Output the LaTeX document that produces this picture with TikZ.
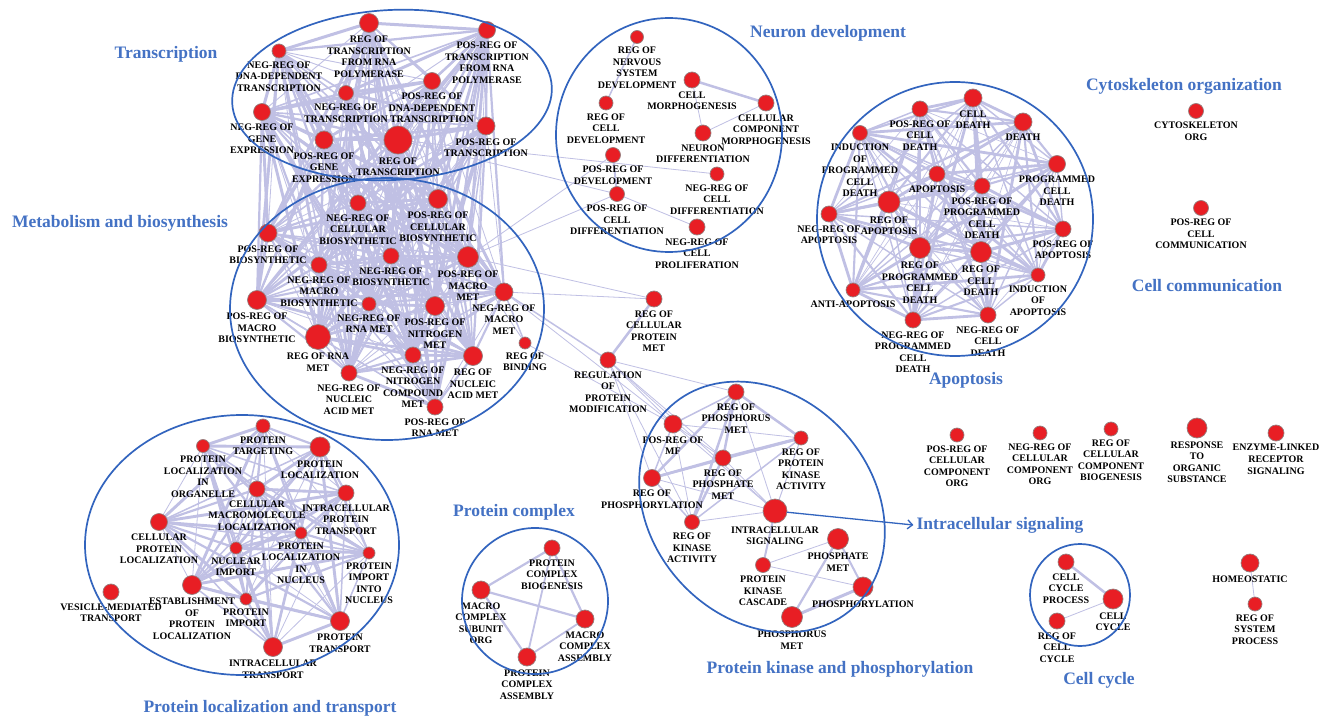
\documentclass[tikz,border=0pt]{standalone}
\usepackage{fontspec}
\setmainfont{Liberation Serif}
\usetikzlibrary{arrows.meta}
\pgfdeclarelayer{edges}
\pgfsetlayers{edges,main}
\definecolor{edgec}{RGB}{192,192,228}
\definecolor{nred}{RGB}{232,30,36}
\definecolor{nborder}{RGB}{150,125,125}
\definecolor{ttlc}{RGB}{68,114,196}
\definecolor{ringc}{RGB}{50,100,190}
\tikzset{
  gn/.style={circle, fill=nred, draw=nborder, line width=0.7pt, minimum size=#1, inner sep=0pt, outer sep=0pt},
  every label/.style={font=\fontsize{10}{11.6}\selectfont\bfseries, align=center, inner sep=0pt, text=black},
  label distance=3.2pt,
  edge/.style={draw=edgec},
  ring/.style={draw=ringc, line width=1.7pt},
  ttl/.style={font=\fontsize{17.5}{20}\selectfont\bfseries, text=ttlc, inner sep=0pt}
}
\newcommand{\densegroup}[3]{%
  \foreach \a [count=\i] in {#1} {
    \foreach \b [count=\j] in {#1} {
      \ifnum\j>\i
        \pgfmathsetmacro{\w}{#2+#3*mod(\i*5+\j*3,4)}
        \draw[edge, line width=\w pt] (\a) -- (\b);
      \fi
    }
  }}
\begin{document}
\begin{tikzpicture}[x=1pt,y=-1pt]
\useasboundingbox (0,0) rectangle (1325,719);
\begin{pgfonlayer}{edges}
\fill[white] (0,0) rectangle (1325,719);
\end{pgfonlayer}

% ---------------- Transcription
\node[gn=14pt, label=below:{NEG-REG OF\\DNA-DEPENDENT\\TRANSCRIPTION}] (t1) at (279,51) {};
\node[gn=19pt, label=below:{REG OF\\TRANSCRIPTION\\FROM RNA\\POLYMERASE}] (t2) at (369,23) {};
\node[gn=17pt, label=below:{POS-REG OF\\TRANSCRIPTION\\FROM RNA\\POLYMERASE}] (t3) at (487,30) {};
\node[gn=15pt, label=below:{NEG-REG OF\\TRANSCRIPTION}] (t4) at (346,93) {};
\node[gn=17pt, label=below:{POS-REG OF\\DNA-DEPENDENT\\TRANSCRIPTION}] (t5) at (432,81) {};
\node[gn=17pt, label=below:{NEG-REG OF\\GENE\\EXPRESSION}] (t6) at (262,112) {};
\node[gn=18pt, label=below:{POS-REG OF\\GENE\\EXPRESSION}] (t7) at (324,140) {};
\node[gn=28pt, label=below:{REG OF\\TRANSCRIPTION}] (t8) at (398,140) {};
\node[gn=18pt, label=below:{POS-REG OF\\TRANSCRIPTION}] (t9) at (486,126) {};

% ---------------- Metabolism
\node[gn=16pt, label=below:{NEG-REG OF\\CELLULAR\\BIOSYNTHETIC}] (m1) at (358,203) {};
\node[gn=19pt, label=below:{POS-REG OF\\CELLULAR\\BIOSYNTHETIC}] (m2) at (438,199) {};
\node[gn=18pt, label=below:{POS-REG OF\\BIOSYNTHETIC}] (m3) at (268,233) {};
\node[gn=16pt, label=below:{NEG-REG OF\\MACRO\\BIOSYNTHETIC}] (m4) at (319,265) {};
\node[gn=16pt, label=below:{NEG-REG OF\\BIOSYNTHETIC}] (m5) at (391,256) {};
\node[gn=21pt, label=below:{POS-REG OF\\MACRO\\MET}] (m6) at (468,257) {};
\node[gn=18pt, label=below:{NEG-REG OF\\MACRO\\MET}] (m7) at (504,292) {};
\node[gn=19pt, label=below:{POS-REG OF\\MACRO\\BIOSYNTHETIC}] (m8) at (257,300) {};
\node[gn=14pt, label=below:{NEG-REG OF\\RNA MET}] (m9) at (369,304) {};
\node[gn=19pt, label=below:{POS-REG OF\\NITROGEN\\MET}] (m10) at (435,306) {};
\node[gn=25pt, label=below:{REG OF RNA\\MET}] (m11) at (318,337) {};
\node[gn=12pt, label=below:{REG OF\\BINDING}] (m12) at (525,343) {};
\node[gn=16pt, label=below:{NEG-REG OF\\NITROGEN\\COMPOUND\\MET}] (m13) at (413,355) {};
\node[gn=19pt, label=below:{REG OF\\NUCLEIC\\ACID MET}] (m14) at (473,356) {};
\node[gn=16pt, label=below:{NEG-REG OF\\NUCLEIC\\ACID MET}] (m15) at (349,373) {};
\node[gn=16pt, label=below:{POS-REG OF\\RNA MET}] (m16) at (435,407) {};

% ---------------- Neuron development
\node[gn=13pt, label=below:{REG OF\\NERVOUS\\SYSTEM\\DEVELOPMENT}] (n1) at (637,37) {};
\node[gn=16pt, label=below:{CELL\\MORPHOGENESIS}] (n2) at (692,80) {};
\node[gn=16pt, label=below:{CELLULAR\\COMPONENT\\MORPHOGENESIS}] (n3) at (766,103) {};
\node[gn=14pt, label=below:{REG OF\\CELL\\DEVELOPMENT}] (n4) at (606,103) {};
\node[gn=16pt, label=below:{NEURON\\DIFFERENTIATION}] (n5) at (703,133) {};
\node[gn=15pt, label=below:{POS-REG OF\\DEVELOPMENT}] (n6) at (613,155) {};
\node[gn=14pt, label=below:{NEG-REG OF\\CELL\\DIFFERENTIATION}] (n7) at (717,174) {};
\node[gn=15pt, label=below:{POS-REG OF\\CELL\\DIFFERENTIATION}] (n8) at (617,194) {};
\node[gn=16pt, label=below:{NEG-REG OF\\CELL\\PROLIFERATION}] (n9) at (697,227) {};

% ---------------- Apoptosis
\node[gn=16pt, label=below:{POS-REG OF\\CELL\\DEATH}] (a1) at (920,109) {};
\node[gn=18pt, label=below:{CELL\\DEATH}] (a2) at (973,98) {};
\node[gn=18pt, label=below:{DEATH}] (a3) at (1023,122) {};
\node[gn=15pt, label=below:{INDUCTION\\OF\\PROGRAMMED\\CELL\\DEATH}] (a4) at (860,133) {};
\node[gn=17pt, label=below:{PROGRAMMED\\CELL\\DEATH}] (a5) at (1057,164) {};
\node[gn=16pt, label=below:{APOPTOSIS}] (a6) at (937,174) {};
\node[gn=16pt, label=below:{POS-REG OF\\PROGRAMMED\\CELL\\DEATH}] (a7) at (982,186) {};
\node[gn=22pt, label=below:{REG OF\\APOPTOSIS}] (a8) at (889,202) {};
\node[gn=16pt, label=below:{NEG-REG OF\\APOPTOSIS}] (a9) at (829,214) {};
\node[gn=21pt, label=below:{REG OF\\PROGRAMMED\\CELL\\DEATH}] (a10) at (920,248) {};
\node[gn=21pt, label=below:{REG OF\\CELL\\DEATH}] (a11) at (981,252) {};
\node[gn=16pt, label=below:{POS-REG OF\\APOPTOSIS}] (a12) at (1063,229) {};
\node[gn=14pt, label=below:{INDUCTION\\OF\\APOPTOSIS}] (a13) at (1038,275) {};
\node[gn=14pt, label=below:{ANTI-APOPTOSIS}] (a14) at (853,290) {};
\node[gn=16pt, label=below:{NEG-REG OF\\PROGRAMMED\\CELL\\DEATH}] (a15) at (913,320) {};
\node[gn=16pt, label=below:{NEG-REG OF\\CELL\\DEATH}] (a16) at (988,315) {};

% ---------------- Middle
\node[gn=16pt, label=below:{REG OF\\CELLULAR\\PROTEIN\\MET}] (r1) at (654,299) {};
\node[gn=16pt, label=below:{REGULATION\\OF\\PROTEIN\\MODIFICATION}] (r2) at (608,360) {};

% ---------------- Kinase
\node[gn=16pt, label=below:{REG OF\\PHOSPHORUS\\MET}] (k1) at (736,392) {};
\node[gn=18pt, label=below:{POS-REG OF\\MF}] (k2) at (673,424) {};
\node[gn=14pt, label=below:{REG OF\\PROTEIN\\KINASE\\ACTIVITY}] (k3) at (801,438) {};
\node[gn=16pt, label=below:{REG OF\\PHOSPHATE\\MET}] (k4) at (723,458) {};
\node[gn=17pt, label=below:{REG OF\\PHOSPHORYLATION}] (k5) at (652,478) {};
\node[gn=24pt, label=below:{INTRACELLULAR\\SIGNALING}] (k6) at (775,511) {};
\node[gn=15pt, label=below:{REG OF\\KINASE\\ACTIVITY}] (k7) at (692,522) {};
\node[gn=21pt, label=below:{PHOSPHATE\\MET}] (k8) at (838,539) {};
\node[gn=15pt, label=below:{PROTEIN\\KINASE\\CASCADE}] (k9) at (763,565) {};
\node[gn=20pt, label=below:{PHOSPHORYLATION}] (k10) at (863,587) {};
\node[gn=21pt, label=below:{PHOSPHORUS\\MET}] (k11) at (792,617) {};

% ---------------- Protein localization
\node[gn=14pt, label=below:{PROTEIN\\TARGETING}] (p1) at (263,426) {};
\node[gn=13pt, label=below:{PROTEIN\\LOCALIZATION\\IN\\ORGANELLE}] (p2) at (203,446) {};
\node[gn=20pt, label=below:{PROTEIN\\LOCALIZATION}] (p3) at (320,447) {};
\node[gn=16pt, label=below:{CELLULAR\\MACROMOLECULE\\LOCALIZATION}] (p4) at (257,489) {};
\node[gn=16pt, label=below:{INTRACELLULAR\\PROTEIN\\TRANSPORT}] (p5) at (346,493) {};
\node[gn=17pt, label=below:{CELLULAR\\PROTEIN\\LOCALIZATION}] (p6) at (159,522) {};
\node[gn=12pt, label=below:{PROTEIN\\LOCALIZATION\\IN\\NUCLEUS}] (p7) at (301,533) {};
\node[gn=12pt, label=below:{NUCLEAR\\IMPORT}] (p8) at (236,548) {};
\node[gn=12pt, label=below:{PROTEIN\\IMPORT\\INTO\\NUCLEUS}] (p9) at (369,553) {};
\node[gn=19pt, label=below:{ESTABLISHMENT\\OF\\PROTEIN\\LOCALIZATION}] (p10) at (192,585) {};
\node[gn=12pt, label=below:{PROTEIN\\IMPORT}] (p11) at (246,599) {};
\node[gn=19pt, label=below:{PROTEIN\\TRANSPORT}] (p12) at (340,621) {};
\node[gn=19pt, label=below:{INTRACELLULAR\\TRANSPORT}] (p13) at (273,647) {};
\node[gn=16pt, label=below:{VESICLE-MEDIATED\\TRANSPORT}] (v) at (111,592) {};

% ---------------- Protein complex
\node[gn=16pt, label=below:{PROTEIN\\COMPLEX\\BIOGENESIS}] (c1) at (552,548) {};
\node[gn=18pt, label=below:{MACRO\\COMPLEX\\SUBUNIT\\ORG}] (c2) at (481,590) {};
\node[gn=18pt, label=below:{MACRO\\COMPLEX\\ASSEMBLY}] (c3) at (585,619) {};
\node[gn=18pt, label=below:{PROTEIN\\COMPLEX\\ASSEMBLY}] (c4) at (527,657) {};

% ---------------- Others
\node[gn=15pt, label=below:{CYTOSKELETON\\ORG}] (cyto) at (1196,111) {};
\node[gn=15pt, label=below:{POS-REG OF\\CELL\\COMMUNICATION}] (comm) at (1201,208) {};
\node[gn=14pt, label=below:{POS-REG OF\\CELLULAR\\COMPONENT\\ORG}] (o1) at (957,435) {};
\node[gn=14pt, label=below:{NEG-REG OF\\CELLULAR\\COMPONENT\\ORG}] (o2) at (1040,433) {};
\node[gn=14pt, label=below:{REG OF\\CELLULAR\\COMPONENT\\BIOGENESIS}] (o3) at (1111,429) {};
\node[gn=20pt, label=below:{RESPONSE\\TO\\ORGANIC\\SUBSTANCE}] (o4) at (1197,428) {};
\node[gn=16pt, label=below:{ENZYME-LINKED\\RECEPTOR\\SIGNALING}] (o5) at (1276,433) {};
\node[gn=16pt, label=below:{CELL\\CYCLE\\PROCESS}] (cc1) at (1066,562) {};
\node[gn=20pt, label=below:{CELL\\CYCLE}] (cc2) at (1113,599) {};
\node[gn=16pt, label=below:{REG OF\\CELL\\CYCLE}] (cc3) at (1057,621) {};
\node[gn=18pt, label=below:{HOMEOSTATIC}] (h1) at (1250,563) {};
\node[gn=14pt, label=below:{REG OF\\SYSTEM\\PROCESS}] (h2) at (1255,604) {};

% ---------------- Titles
\node[ttl] (T1) at (166,54) {Transcription};
\node[ttl] (T2) at (120,223) {Metabolism and biosynthesis};
\node[ttl] (T3) at (828,33) {Neuron development};
\node[ttl] (T4) at (1184,86) {Cytoskeleton organization};
\node[ttl] (T5) at (1207,286) {Cell communication};
\node[ttl] (T6) at (966,380) {Apoptosis};
\node[ttl] (T7) at (1000,525) {Intracellular signaling};
\node[ttl] (T8) at (514,512) {Protein complex};
\node[ttl] (T9) at (840,669) {Protein kinase and phosphorylation};
\node[ttl] (T10) at (1099,680) {Cell cycle};
\node[ttl] (T11) at (270,708) {Protein localization and transport};

% ---------------- Edges
\begin{pgfonlayer}{edges}
\densegroup{t1,t2,t3,t4,t5,t6,t7,t8,t9}{0.9}{0.7}
\densegroup{m1,m2,m3,m4,m5,m6,m7,m8,m9,m10,m11,m13,m14,m15,m16}{0.8}{0.65}
\foreach \a [count=\i] in {t1,t2,t3,t4,t5,t6,t7,t8,t9} {
  \foreach \b [count=\j] in {m1,m2,m3,m4,m5,m6,m7,m8,m9,m10,m11,m13,m14,m15,m16} {
    \pgfmathsetmacro{\w}{0.8+0.7*mod(\i*3+\j*7,4)}
    \draw[edge, line width=\w pt] (\a) -- (\b);
  }
}
\densegroup{a1,a2,a3,a4,a5,a6,a7,a8,a9,a10,a11,a12,a13,a14,a15,a16}{0.7}{0.7}
\densegroup{p1,p2,p3,p4,p5,p6,p7,p8,p9,p10,p11,p12,p13}{0.8}{0.7}
\foreach \a/\b/\w in {k1/k2/1.5, k1/k3/2.5, k1/k4/2.5, k1/k5/2.5, k1/k7/2.5, k1/k6/0.8,
  k2/k4/0.8, k2/k5/1.5, k2/k7/0.8, k2/k3/0.8, k2/k6/0.8, k3/k4/3, k3/k5/2.5, k3/k6/1,
  k3/k7/1.5, k4/k5/2.5, k4/k7/2.5, k4/k6/0.8, k5/k7/1.5, k5/k6/0.8, k7/k6/0.8,
  k6/k9/2, k9/k8/0.8, k9/k10/0.8, k8/k10/2, k8/k11/2.2, k10/k11/3,
  t8/n7/0.8, t8/n8/0.8, m6/n6/0.8, m6/n8/0.8, m6/r1/0.8, m7/r1/0.8, m7/r2/1.5,
  r1/r2/2.5, m12/k2/0.8, r2/k1/0.8, r2/k2/0.8, r2/k4/0.8, r2/k5/0.8, r2/k6/0.8,
  r2/k7/0.8, m7/k2/0.8, m7/m12/1.5, m6/m12/0.8,
  n1/n4/1.5, n2/n3/2.5, n2/n5/0.8, n5/n3/0.8, n6/n8/2, n8/n9/0.8,
  c1/c2/2.2, c1/c3/2.2, c1/c4/1.8, c2/c3/2.2, c2/c4/2.2, c3/c4/1.8,
  cc1/cc2/2.5, cc3/cc2/0.8, h1/h2/0.8}
  \draw[edge, line width=\w pt] (\a) -- (\b);
\end{pgfonlayer}

% ---------------- Cluster outlines
\draw[ring, rotate around={3:(392,95)}] (392,95) ellipse [x radius=160pt, y radius=85pt];
\draw[ring] (387,309) ellipse [x radius=157pt, y radius=131pt];
\draw[ring] (669,135) ellipse [x radius=113pt, y radius=117pt];
\draw[ring] (955,219) ellipse [x radius=138pt, y radius=137pt];
\draw[ring] (242,545) ellipse [x radius=157pt, y radius=130pt];
\draw[ring] (535,601) ellipse [x radius=73pt, y radius=73pt];
\draw[ring, rotate around={-48:(762,507)}] (762,507) ellipse [x radius=136pt, y radius=111pt];
\draw[ring] (1080,595) ellipse [x radius=50pt, y radius=51pt];

% ---------------- Arrow
\draw[ring, line width=1.3pt, -{Straight Barb[length=5pt,width=9pt]}] (k6) -- ([xshift=-3pt]T7.west);
\end{tikzpicture}
\end{document}
